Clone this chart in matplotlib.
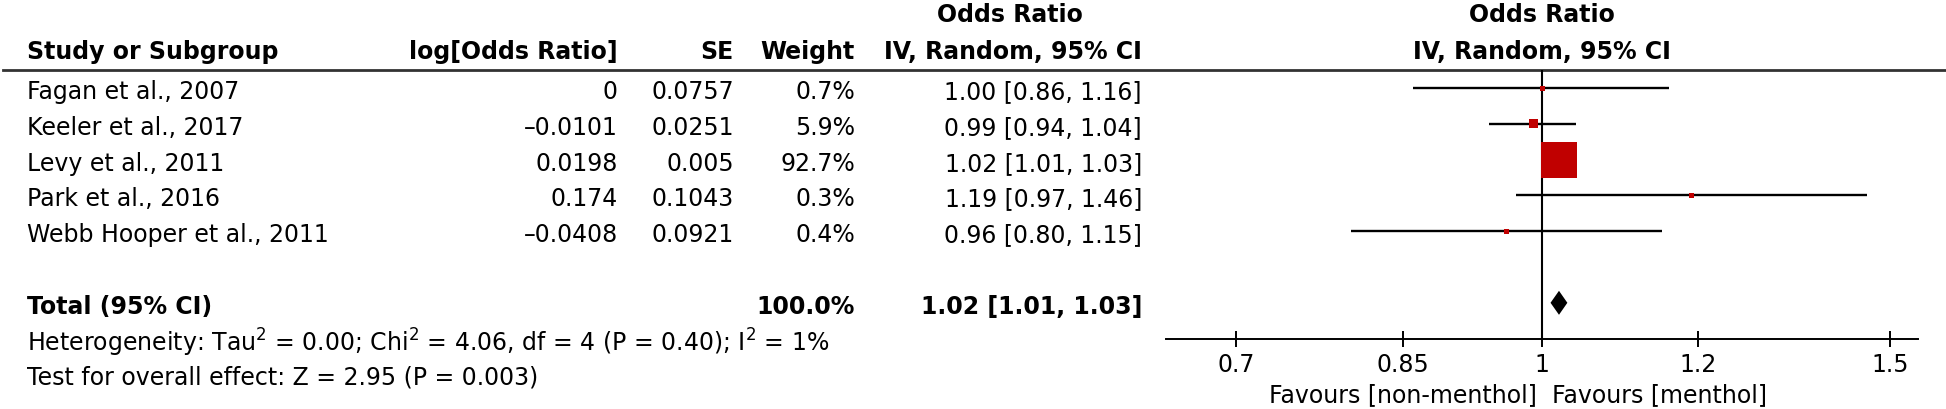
# Forest plot: menthol vs non-menthol, odds ratio (IV, random)
import numpy as np
import matplotlib
matplotlib.use('Agg')
import matplotlib.pyplot as plt

studies = ['Fagan et al., 2007', 'Keeler et al., 2017', 'Levy et al., 2011',
           'Park et al., 2016', 'Webb Hooper et al., 2011']
log_or = ['0', '-0.0101', '0.0198', '0.174', '-0.0408']
se = ['0.0757', '0.0251', '0.005', '0.1043', '0.0921']
weight = [0.7, 5.9, 92.7, 0.3, 0.4]
odds = [1.00, 0.99, 1.02, 1.19, 0.96]
ci_low = [0.86, 0.94, 1.01, 0.97, 0.80]
ci_high = [1.16, 1.04, 1.03, 1.46, 1.15]
total_or, total_low, total_high = 1.02, 1.01, 1.03
ticks = [0.7, 0.85, 1, 1.2, 1.5]
tick_labels = ['0.7', '0.85', '1', '1.2', '1.5']

plt.rcParams['font.family'] = ['DejaVu Sans']
plt.rcParams['mathtext.default'] = 'regular'
fs = 17
W, H = 1946, 409

fig = plt.figure(figsize=(W / 100, H / 100), dpi=100)

# table part drawn in pixel coordinates
tab = fig.add_axes([0, 0, 1, 1])
tab.set_xlim(0, W)
tab.set_ylim(H, 0)
tab.axis('off')

row0, dy = 88, 35.8
rows = [row0 + i * dy for i in range(len(studies))]
total_y = row0 + 6 * dy
txt_off = 4

# headers
tab.text(1010, 15, 'Odds Ratio', ha='center', va='center', fontsize=fs, fontweight='bold')
tab.text(1542, 15, 'Odds Ratio', ha='center', va='center', fontsize=fs, fontweight='bold')
tab.text(27, 52, 'Study or Subgroup', ha='left', va='center', fontsize=fs, fontweight='bold')
tab.text(618, 52, 'log[Odds Ratio]', ha='right', va='center', fontsize=fs, fontweight='bold')
tab.text(734, 52, 'SE', ha='right', va='center', fontsize=fs, fontweight='bold')
tab.text(855, 52, 'Weight', ha='right', va='center', fontsize=fs, fontweight='bold')
tab.text(1142, 52, 'IV, Random, 95% CI', ha='right', va='center', fontsize=fs, fontweight='bold')
tab.text(1542, 52, 'IV, Random, 95% CI', ha='center', va='center', fontsize=fs, fontweight='bold')
tab.plot([3, W], [70, 70], color='#333333', lw=2)

for i in range(len(studies)):
    y = rows[i] + txt_off
    tab.text(27, y, studies[i], ha='left', va='center', fontsize=fs)
    tab.text(618, y, log_or[i].replace('-', '\u2013'), ha='right', va='center', fontsize=fs)
    tab.text(734, y, se[i], ha='right', va='center', fontsize=fs)
    tab.text(855, y, '%.1f%%' % weight[i], ha='right', va='center', fontsize=fs)
    tab.text(1142, y, '%.2f [%.2f, %.2f]' % (odds[i], ci_low[i], ci_high[i]),
             ha='right', va='center', fontsize=fs)

tab.text(27, total_y + txt_off, 'Total (95% CI)', ha='left', va='center', fontsize=fs, fontweight='bold')
tab.text(855, total_y + txt_off, '%.1f%%' % sum(weight), ha='right', va='center', fontsize=fs, fontweight='bold')
tab.text(1142, total_y + txt_off, '%.2f [%.2f, %.2f]' % (total_or, total_low, total_high),
         ha='right', va='center', fontsize=fs, fontweight='bold')
tab.text(27, 343, 'Heterogeneity: Tau$^2$ = 0.00; Chi$^2$ = 4.06, df = 4 (P = 0.40); I$^2$ = 1%',
         ha='left', va='center', fontsize=fs)
tab.text(27, 378, 'Test for overall effect: Z = 2.95 (P = 0.003)', ha='left', va='center', fontsize=fs)
tab.text(1537, 395, 'Favours [non-menthol]', ha='right', va='center', fontsize=fs)
tab.text(1552, 395, 'Favours [menthol]', ha='left', va='center', fontsize=fs)

# forest part
x0, x1, ytop, ybot = 1166, 1918, 70, 339
ax = fig.add_axes([x0 / W, 1 - ybot / H, (x1 - x0) / W, (ybot - ytop) / H])
ax.set_xscale('log')
ax.set_xlim(1 / 1.55, 1.55)
ax.set_ylim(ybot, ytop)
ax.patch.set_alpha(0)
for s in ['top', 'left', 'right']:
    ax.spines[s].set_visible(False)
ax.spines['bottom'].set_linewidth(1.4)
ax.set_yticks([])
ax.set_xticks(ticks)
ax.set_xticklabels(tick_labels)
ax.minorticks_off()
ax.tick_params(axis='x', direction='inout', length=12, width=1.4, pad=4, labelsize=fs)
ax.axvline(1, color='black', lw=1.5, zorder=1)

ax.hlines(rows, ci_low, ci_high, color='black', lw=1.7, zorder=2)
side_px = np.maximum(36 * np.sqrt(np.array(weight) / 92.7), 5)
ax.scatter(odds, rows, s=(side_px * 0.72) ** 2, marker='s', color='#c00000', lw=0, zorder=3)

dh = 12
ax.fill([total_low, total_or, total_high, total_or],
        [total_y, total_y - dh, total_y, total_y + dh], color='black', lw=0, zorder=3)

plt.savefig('out.png', dpi=100)
plt.close()
